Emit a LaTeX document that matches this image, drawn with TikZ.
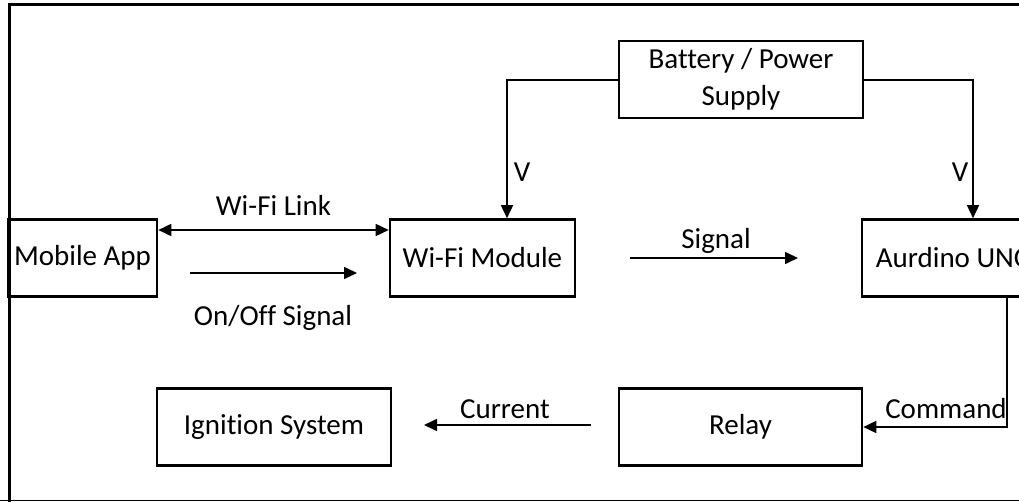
\documentclass[tikz,border=0pt]{standalone}
\usepackage{fontspec}
\setmainfont{Carlito}[Ligatures=NoCommon]
\usetikzlibrary{arrows.meta}

\begin{document}
\begin{tikzpicture}[
		x=1pt, y=-1pt,
		>={Triangle[length=13pt, width=12pt]},
		every node/.style={font=\fontsize{29}{37}\selectfont},
		block/.style={draw, line width=2.6pt, minimum height=77pt, inner sep=0pt},
		link/.style={line width=1.6pt},
		tag/.style={inner sep=0pt}
		]
		
		\useasboundingbox (0,0) rectangle (1019,502);
		\clip (0,0) rectangle (1019,502);
		\draw[line width=3pt] (9.5,502) -- (9.5,4.5) -- (1030,4.5);
		\draw[line width=1.6pt] (0,500.5) -- (1030,500.5);
		
		\node[block, minimum width=149pt] (mobile) at (82.5,258) {Mobile App};
		\node[block, minimum width=185pt] (wifi) at (482.5,258) {Wi-Fi Module};
		\node[block, minimum width=185pt] (ard) at (954.5,258) {Aurdino UNO};
		\node[block, minimum width=244pt, align=center] (batt) at (741,79.5) {Battery / Power\\Supply};
		\node[block, minimum width=234pt] (ign) at (274,427) {Ignition System};
		\node[block, minimum width=243pt] (relay) at (740.5,427) {Relay};
		
		\coordinate (vL) at (507,80);
		\coordinate (vR) at (973,80);
		\coordinate (cmd) at (1007,427);
		\coordinate (onA) at (190,273);
		\coordinate (onB) at (357,273);
		\coordinate (sigA) at (630,258);
		\coordinate (sigB) at (798,258);
		\coordinate (curA) at (591,425);
		\coordinate (curB) at (424,425);
		
		\draw[link, <->] ([yshift=28pt]mobile.east) -- ([yshift=28pt]wifi.west)
			node[tag, midway, above=14pt] {Wi-Fi Link};
		\draw[link, ->] (onA) -- (onB);
		\node[tag] (onlbl) at (273,318) {On/Off Signal};
		\draw[link, ->] (sigA) -- (sigB);
		\node[tag] (siglbl) at (716,241) {Signal};
		
		\draw[link, ->] (batt.west |- vL) -- (vL) -- (vL |- wifi.north);
		\node[tag] (vlbl1) at (522,172) {V};
		\draw[link, ->] (batt.east |- vR) -- (vR) -- (vR |- ard.north);
		\node[tag] (vlbl2) at (960,172) {V};
		
		\draw[link, ->] (cmd |- ard.south) -- (cmd) -- (relay.east);
		\node[tag] (cmdlbl) at (946,409) {Command};
		\draw[link, ->] (curA) -- (curB);
		\node[tag] (curlbl) at (505,409) {Current};
	\end{tikzpicture}
\end{document}
